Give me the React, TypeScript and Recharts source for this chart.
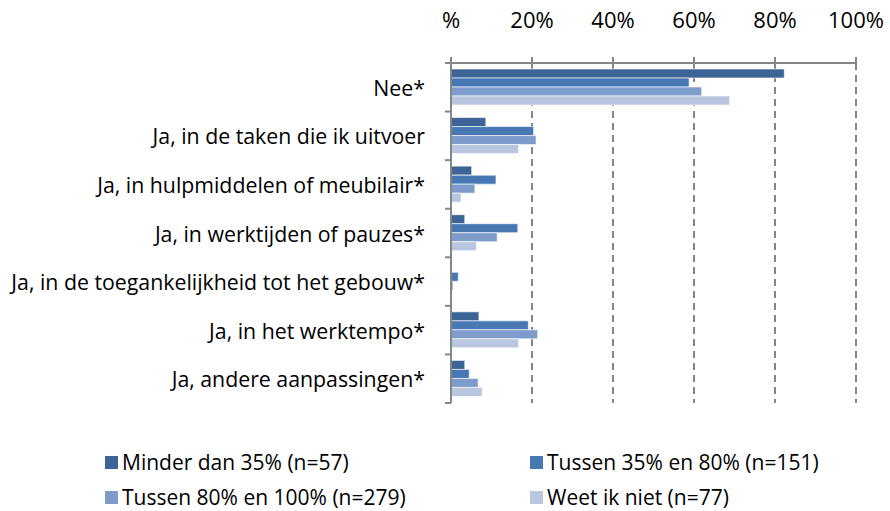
import React from "react";
import { BarChart, Bar, XAxis, YAxis, CartesianGrid, Legend } from "recharts";

const categories = [
  "Nee*",
  "Ja, in de taken die ik uitvoer",
  "Ja, in hulpmiddelen of meubilair*",
  "Ja, in werktijden of pauzes*",
  "Ja, in de toegankelijkheid tot het gebouw*",
  "Ja, in het werktempo*",
  "Ja, andere aanpassingen*",
];
const seriesNames = [
  "Minder dan 35% (n=57)",
  "Tussen 35% en 80% (n=151)",
  "Tussen 80% en 100% (n=279)",
  "Weet ik niet (n=77)",
];
const minder35 = [82.3, 8.6, 5.1, 3.4, 0, 6.9, 3.4];
const tussen35_80 = [58.8, 20.4, 11.1, 16.5, 1.8, 19.1, 4.5];
const tussen80_100 = [61.9, 21.0, 5.9, 11.4, 0.5, 21.4, 6.7];
const weetNiet = [68.8, 16.7, 2.5, 6.3, 0, 16.7, 7.7];
const xTicks = [0, 20, 40, 60, 80, 100];
const xTickLabels = ["%", "20%", "40%", "60%", "80%", "100%"];

const colors = ["#3c6496", "#4878b4", "#7e9ccb", "#b8c6e0"];
const FONT = "'Open Sans', Lato, sans-serif";
const AXIS_COLOR = "#868686";

const data = categories.map((c, i) => ({
  cat: c,
  s0: minder35[i],
  s1: tussen35_80[i],
  s2: tussen80_100[i],
  s3: weetNiet[i],
}));

const PLOT_TOP = 63;
const PLOT_BOTTOM = 403;
const AXIS_X = 451;
const BAND = (PLOT_BOTTOM - PLOT_TOP) / categories.length;

const YTick = (props: any) => {
  const { y, payload, index } = props;
  return (
    <g>
      <line x1={AXIS_X - 6} x2={AXIS_X} y1={y - BAND / 2} y2={y - BAND / 2} stroke={AXIS_COLOR} strokeWidth={2} />
      {index === categories.length - 1 && (
        <line x1={AXIS_X - 6} x2={AXIS_X} y1={y + BAND / 2} y2={y + BAND / 2} stroke={AXIS_COLOR} strokeWidth={2} />
      )}
      <text x={AXIS_X - 26} y={y} textAnchor="end" dominantBaseline="central" fontSize={21.3} fontFamily={FONT} fill="#000">
        {payload.value}
      </text>
    </g>
  );
};

const LegendContent = () => (
  <div style={{ position: "relative", width: 890, height: 70, fontFamily: FONT, fontSize: 21 }}>
    {seriesNames.map((n, i) => {
      const col = i % 2;
      const row = Math.floor(i / 2);
      return (
        <div
          key={n}
          style={{
            position: "absolute",
            left: col === 0 ? 105 : 530,
            top: row * 35,
            height: 24,
            display: "flex",
            alignItems: "center",
            whiteSpace: "nowrap",
            color: "#000",
          }}
        >
          <span style={{ display: "inline-block", width: 13, height: 13, background: colors[i], marginRight: 4 }} />
          <span>{n}</span>
        </div>
      );
    })}
  </div>
);

export default function App() {
  return (
    <div style={{ position: "absolute", left: 0, top: 0, width: 890, height: 511, background: "#fff" }}>
      <BarChart
        width={890}
        height={511}
        data={data}
        layout="vertical"
        margin={{ top: 0, right: 34, bottom: 108, left: 0 }}
        barCategoryGap={6}
        barGap={0}
      >
        <CartesianGrid horizontal={false} vertical={true} stroke={AXIS_COLOR} strokeWidth={2} strokeDasharray="7 5" />
        <XAxis
          type="number"
          orientation="top"
          domain={[0, 100]}
          ticks={xTicks}
          tickFormatter={(v: number) => xTickLabels[xTicks.indexOf(v)]}
          height={63}
          tickSize={6}
          tickMargin={29}
          axisLine={{ stroke: AXIS_COLOR, strokeWidth: 2 }}
          tickLine={{ stroke: AXIS_COLOR, strokeWidth: 2 }}
          tick={{ fontSize: 22, fontFamily: FONT, fill: "#000" }}
          interval={0}
        />
        <YAxis
          type="category"
          dataKey="cat"
          width={451}
          axisLine={{ stroke: AXIS_COLOR, strokeWidth: 2 }}
          tickLine={false}
          tick={<YTick />}
          interval={0}
        />
        <Legend
          layout="horizontal"
          verticalAlign="middle"
          align="center"
          wrapperStyle={{ position: "absolute", top: 450, left: 0, width: 890 }}
          content={<LegendContent />}
        />
        {["s0", "s1", "s2", "s3"].map((k, i) => (
          <Bar
            key={k}
            dataKey={k}
            name={seriesNames[i]}
            fill={colors[i]}
            stroke="#ffffff"
            strokeOpacity={0.6}
            strokeWidth={1}
            isAnimationActive={false}
          />
        ))}
      </BarChart>
    </div>
  );
}
